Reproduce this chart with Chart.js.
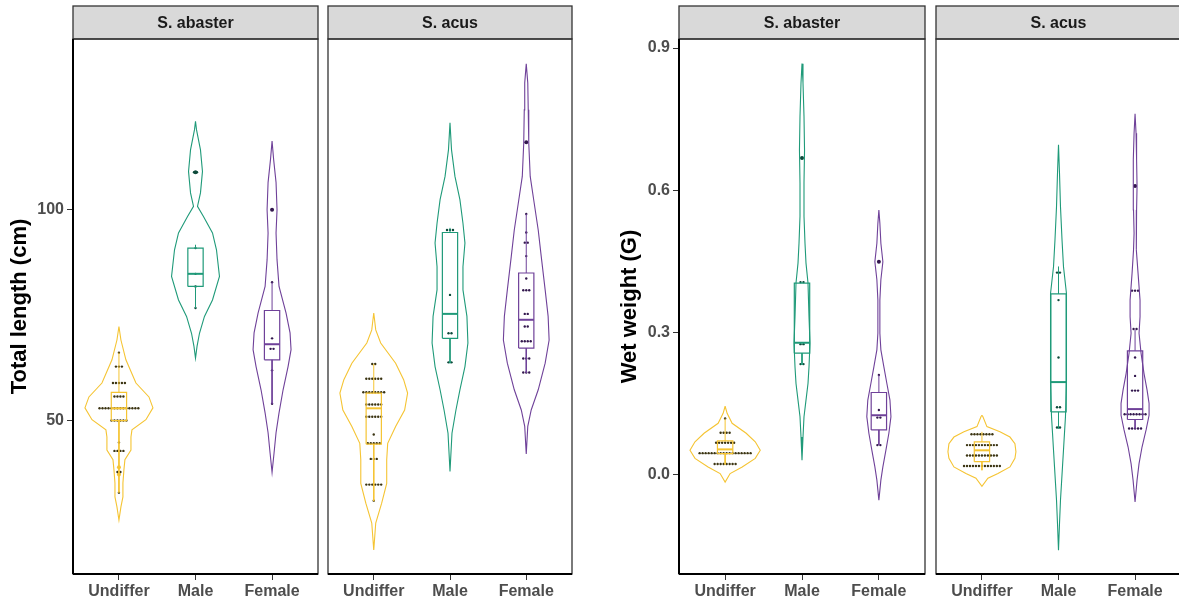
<!DOCTYPE html>
<html>
<head>
<meta charset="utf-8">
<script src="https://cdn.jsdelivr.net/npm/chart.js"></script>
<style>
  body { margin: 0; background: #fff; width: 1179px; height: 607px; overflow: hidden; position: relative; }
  .panel { position: absolute; top: 0; height: 607px; }
</style>
</head>
<body>
<div class="panel" style="left:0;width:322px"><canvas id="c1"></canvas></div>
<div class="panel" style="left:324px;width:252px"><canvas id="c2"></canvas></div>
<div class="panel" style="left:580px;width:349px"><canvas id="c3"></canvas></div>
<div class="panel" style="left:932px;width:253px"><canvas id="c4"></canvas></div>
<script>
    const categories = ['Undiffer', 'Male', 'Female'];
    const species = ['S. abaster', 'S. acus'];

    const lengthTicks = [50, 100];
    const lengthTickLabels = ['50', '100'];
    const weightTicks = [0.0, 0.3, 0.6, 0.9];
    const weightTickLabels = ['0.0', '0.3', '0.6', '0.9'];

    // violin outlines: [value, half width in category units], top to bottom
    const lenAbasterViolin = [
        [[72.3,0],[69.1,0.026],[64.4,0.091],[58.9,0.222],[55.6,0.392],[53.0,0.444],[50.2,0.352],[47.8,0.17],[46.1,0.157],[43.0,0.157],[40.7,0.078],[38.3,0.065],[35.2,0.052],[31.9,0.052],[29.5,0.026],[26.4,0]],
        [[121.0,0],[119,0.013],[114.2,0.065],[109.1,0.091],[104,0.065],[100.8,0.026],[98.4,0.104],[94.5,0.222],[90.5,0.274],[84.2,0.313],[78.6,0.222],[74.7,0.117],[70.7,0.052],[67.6,0.02],[64.8,0]],
        [[116.3,0],[112,0.02],[106.5,0.052],[100,0.065],[94.5,0.052],[88.1,0.065],[81.8,0.091],[75.5,0.183],[70.8,0.235],[66.8,0.248],[62.8,0.209],[57.3,0.144],[51.8,0.091],[47.1,0.052],[42.3,0.026],[37.7,0]]
    ];
    const lenAcusViolin = [
        [[75.5,0],[71.5,0.026],[68.4,0.091],[63.6,0.287],[59.7,0.392],[56.5,0.444],[52.5,0.405],[48.6,0.287],[44.6,0.183],[40.7,0.17],[35.1,0.17],[30.4,0.104],[25.7,0.026],[19.3,0]],
        [[120.6,0],[114.2,0.02],[107.9,0.065],[102.4,0.13],[96.8,0.17],[92.1,0.196],[86.5,0.17],[81.0,0.17],[74.7,0.222],[68.4,0.235],[62.8,0.196],[57.3,0.13],[52.5,0.078],[47.0,0.026],[37.9,0]],
        [[134.6,0],[130.1,0.02],[123.7,0.026],[115.8,0.033],[107.9,0.052],[101.6,0.104],[95.2,0.157],[89.0,0.196],[81.0,0.248],[74.7,0.287],[69.1,0.3],[63.6,0.248],[57.3,0.157],[52.5,0.065],[48.6,0.02],[42.1,0]]
    ];
    const wtAbasterViolin = [
        [[0.144,0],[0.129,0.026],[0.108,0.091],[0.087,0.274],[0.069,0.392],[0.051,0.457],[0.034,0.392],[0.016,0.222],[0.002,0.065],[-0.016,0]],
        [[0.867,0],[0.826,0.013],[0.756,0.026],[0.685,0.033],[0.615,0.026],[0.545,0.026],[0.488,0.039],[0.446,0.052],[0.404,0.078],[0.333,0.091],[0.277,0.104],[0.227,0.091],[0.192,0.078],[0.157,0.052],[0.122,0.026],[0.079,0.013],[0.030,0]],
        [[0.558,0],[0.530,0.013],[0.488,0.026],[0.449,0.052],[0.411,0.026],[0.368,0.013],[0.298,0.013],[0.263,0.026],[0.227,0.065],[0.192,0.104],[0.157,0.144],[0.122,0.157],[0.087,0.13],[0.051,0.091],[0.016,0.052],[-0.012,0.026],[-0.054,0]]
    ];
    const wtAcusViolin = [
        [[0.125,0],[0.122,0.013],[0.101,0.065],[0.090,0.235],[0.079,0.366],[0.065,0.431],[0.048,0.444],[0.034,0.431],[0.016,0.366],[0.002,0.209],[-0.008,0.078],[-0.025,0]],
        [[0.696,0],[0.636,0.013],[0.565,0.026],[0.495,0.046],[0.439,0.065],[0.382,0.104],[0.298,0.104],[0.192,0.104],[0.122,0.091],[0.087,0.078],[0.051,0.065],[0.016,0.052],[-0.019,0.039],[-0.054,0.026],[-0.104,0.013],[-0.160,0]],
        [[0.761,0],[0.720,0.013],[0.664,0.02],[0.608,0.026],[0.558,0.02],[0.509,0.013],[0.474,0.02],[0.425,0.039],[0.368,0.065],[0.333,0.065],[0.298,0.052],[0.256,0.078],[0.213,0.117],[0.178,0.157],[0.150,0.183],[0.125,0.183],[0.094,0.144],[0.058,0.091],[0.023,0.052],[-0.012,0.026],[-0.058,0]]
    ];

    // boxes: [lower whisker, q1, median, q3, upper whisker]
    const lenAbasterBox = [[32.9,50.0,52.9,56.7,66.1],[76.7,81.8,84.8,90.9,91.7],[54.0,64.4,68.1,76.1,82.8]];
    const lenAcusBox = [[30.9,44.4,52.9,56.5,63.4],[63.6,69.5,75.3,94.6,95.7],[61.3,67.2,73.9,85.0,99.0]];
    const wtAbasterBox = [[0.021,0.044,0.053,0.071,0.118],[0.231,0.256,0.278,0.404,0.406],[0.062,0.094,0.125,0.173,0.210]];
    const wtAcusBox = [[0.009,0.027,0.051,0.069,0.090],[0.097,0.132,0.195,0.381,0.439],[0.097,0.116,0.138,0.261,0.305]];

    // dot plot rows: [value, number of dots]
    const lenAbasterDots = [
        [[66.1,1],[62.8,3],[58.9,5],[55.7,4],[52.9,14],[50.0,6],[44.8,1],[42.8,4],[37.8,2],[32.9,1]],
        [[108.9,2],[90.9,1],[84.8,1],[81.8,1],[76.7,1]],
        [[100,1],[82.8,1],[69.5,1],[67.0,2],[61.9,1],[54.0,1]]
    ];
    const lenAcusDots = [
        [[63.4,2],[59.9,6],[56.7,8],[53.8,6],[50.9,6],[46.7,1],[44.6,5],[40.9,3],[34.8,6],[31.0,1]],
        [[95.2,3],[79.8,1],[70.7,2],[63.8,2]],
        [[116.0,1],[99.0,1],[94.6,1],[92.2,2],[89.0,1],[83.7,1],[80.9,3],[75.3,2],[72.3,2],[68.8,4],[64.7,3],[61.4,3]]
    ];
    const wtAbasterDots = [
        [[0.118,1],[0.088,4],[0.067,7],[0.045,18],[0.022,8]],
        [[0.668,1],[0.406,2],[0.275,2],[0.233,2]],
        [[0.449,1],[0.210,1],[0.136,1],[0.120,2],[0.062,2]]
    ];
    const wtAcusDots = [
        [[0.085,8],[0.062,11],[0.040,11],[0.018,13]],
        [[0.426,2],[0.368,1],[0.247,1],[0.142,2],[0.099,2]],
        [[0.609,1],[0.388,3],[0.307,2],[0.247,1],[0.208,1],[0.177,3],[0.127,8],[0.097,5]]
    ];

    // larger points
    const lenAbasterOutliers = [[38.9,37.2],[108.9],[100]];
    const lenAcusOutliers = [[],[],[116.0]];
    const wtAbasterOutliers = [[],[0.668],[0.449]];
    const wtAcusOutliers = [[],[],[0.609]];

    const lineColors = ['#F5C433', '#1F9A79', '#6F4199'];
    const dotColors = ['#3b3412', '#0e4a3b', '#33184e'];
    const dotStep = 0.039;
    const boxHalf = 0.1;

    Chart.defaults.font.family = '"Liberation Sans", Arial, sans-serif';

    function line(data, color, width) {
        return { data: data, showLine: true, borderColor: color, borderWidth: width, pointRadius: 0, fill: false };
    }

    function buildDatasets(violins, boxes, dots, outliers) {
        const ds = [];
        categories.forEach((cat, i) => {
            const cx = i + 1;
            const c = lineColors[i];
            const v = violins[i];
            const right = v.map(([y, w]) => ({ x: cx + w, y: y }));
            const left = v.slice().reverse().map(([y, w]) => ({ x: cx - w, y: y }));
            ds.push(line(right.concat(left), c, 1.1));

            const [lo, q1, med, q3, hi] = boxes[i];
            ds.push(line([{x: cx, y: q3}, {x: cx, y: hi}], c, 1));
            ds.push(line([{x: cx, y: q1}, {x: cx, y: lo}], c, 1));
            ds.push(line([
                {x: cx - boxHalf, y: q1}, {x: cx + boxHalf, y: q1}, {x: cx + boxHalf, y: q3},
                {x: cx - boxHalf, y: q3}, {x: cx - boxHalf, y: q1}
            ], c, 1.2));
            ds.push(line([{x: cx - boxHalf, y: med}, {x: cx + boxHalf, y: med}], c, 2));
        });
        categories.forEach((cat, i) => {
            const cx = i + 1;
            const pts = [];
            dots[i].forEach(([y, n]) => {
                for (let k = 0; k < n; k++) pts.push({ x: cx + (k - (n - 1) / 2) * dotStep, y: y });
            });
            ds.push({ data: pts, pointRadius: 1.2, pointBackgroundColor: dotColors[i], pointBorderWidth: 0, showLine: false });
            ds.push({
                data: outliers[i].map(y => ({ x: cx, y: y })),
                pointRadius: 2, pointBackgroundColor: i === 0 ? lineColors[i] : dotColors[i], pointBorderWidth: 0, showLine: false
            });
        });
        return ds;
    }

    const stripPlugin = {
        id: 'strip',
        afterDraw(chart, args, opts) {
            const { ctx, chartArea: a } = chart;
            ctx.save();
            ctx.fillStyle = '#d9d9d9';
            ctx.fillRect(a.left, 6, a.right - a.left, a.top - 6);
            ctx.strokeStyle = '#333';
            ctx.lineWidth = 1.3;
            ctx.strokeRect(a.left, 6, a.right - a.left, a.top - 6);
            ctx.strokeRect(a.left, a.top, a.right - a.left, a.bottom - a.top);
            ctx.strokeStyle = '#000';
            ctx.lineWidth = 2;
            ctx.beginPath();
            ctx.moveTo(a.left, a.bottom);
            ctx.lineTo(a.right, a.bottom);
            if (opts.axis) {
                ctx.moveTo(a.left, a.top);
                ctx.lineTo(a.left, a.bottom);
            }
            ctx.stroke();
            ctx.fillStyle = '#1a1a1a';
            ctx.font = 'bold 16px "Liberation Sans", Arial, sans-serif';
            ctx.textAlign = 'center';
            ctx.textBaseline = 'middle';
            ctx.fillText(opts.text, (a.left + a.right) / 2, (6 + a.top) / 2 + 1);
            ctx.restore();
        }
    };

    function makeChart(id, cfg) {
        const yScale = {
            type: 'linear',
            min: cfg.yMin,
            max: cfg.yMax,
            display: cfg.showY,
            afterBuildTicks: s => { s.ticks = cfg.ticks.map(v => ({ value: v })); },
            afterFit: s => { if (cfg.showY) s.width = cfg.yWidth; },
            ticks: {
                callback: (val, idx) => cfg.tickLabels[idx],
                font: { size: 16, weight: 'bold' },
                color: '#4d4d4d',
                padding: 3
            },
            grid: { drawOnChartArea: false, drawTicks: true, tickLength: 6, color: '#333' },
            border: { display: false },
            title: {
                display: cfg.showY,
                text: cfg.yTitle,
                font: { size: 22, weight: 'bold' },
                color: '#000',
                padding: { top: cfg.titlePad, bottom: 0 }
            }
        };
        return new Chart(document.getElementById(id).getContext('2d'), {
            type: 'scatter',
            data: { datasets: buildDatasets(cfg.violins, cfg.boxes, cfg.dots, cfg.outliers) },
            options: {
                responsive: true,
                maintainAspectRatio: false,
                devicePixelRatio: 1,
                animation: false,
                layout: { padding: { top: 39, left: 0, right: 0, bottom: 0 } },
                plugins: {
                    legend: { display: false },
                    tooltip: { enabled: false },
                    strip: { text: cfg.strip, axis: cfg.showY }
                },
                scales: {
                    x: {
                        type: 'linear',
                        min: 0.4,
                        max: 3.6,
                        afterBuildTicks: s => { s.ticks = [1, 2, 3].map(v => ({ value: v })); },
                        afterFit: s => { s.height = 33; },
                        ticks: {
                            callback: val => categories[val - 1],
                            font: { size: 16, weight: 'bold' },
                            color: '#4d4d4d',
                            autoSkip: false,
                            maxRotation: 0,
                            padding: 2
                        },
                        grid: { drawOnChartArea: false, drawTicks: true, tickLength: 6, color: '#333' },
                        border: { display: false }
                    },
                    y: yScale
                }
            },
            plugins: [stripPlugin]
        });
    }

    makeChart('c1', {
        strip: species[0], showY: true, yTitle: 'Total length (cm)', yWidth: 73, titlePad: 7,
        yMin: 13.6, yMax: 140.5, ticks: lengthTicks, tickLabels: lengthTickLabels,
        violins: lenAbasterViolin, boxes: lenAbasterBox, dots: lenAbasterDots, outliers: lenAbasterOutliers
    });
    makeChart('c2', {
        strip: species[1], showY: false, yTitle: '', yWidth: 0, titlePad: 0,
        yMin: 13.6, yMax: 140.5, ticks: lengthTicks, tickLabels: lengthTickLabels,
        violins: lenAcusViolin, boxes: lenAcusBox, dots: lenAcusDots, outliers: lenAcusOutliers
    });
    makeChart('c3', {
        strip: species[0], showY: true, yTitle: 'Wet weight (G)', yWidth: 99, titlePad: 37,
        yMin: -0.21, yMax: 0.919, ticks: weightTicks, tickLabels: weightTickLabels,
        violins: wtAbasterViolin, boxes: wtAbasterBox, dots: wtAbasterDots, outliers: wtAbasterOutliers
    });
    makeChart('c4', {
        strip: species[1], showY: false, yTitle: '', yWidth: 0, titlePad: 0,
        yMin: -0.21, yMax: 0.919, ticks: weightTicks, tickLabels: weightTickLabels,
        violins: wtAcusViolin, boxes: wtAcusBox, dots: wtAcusDots, outliers: wtAcusOutliers
    });
</script>
</body>
</html>
